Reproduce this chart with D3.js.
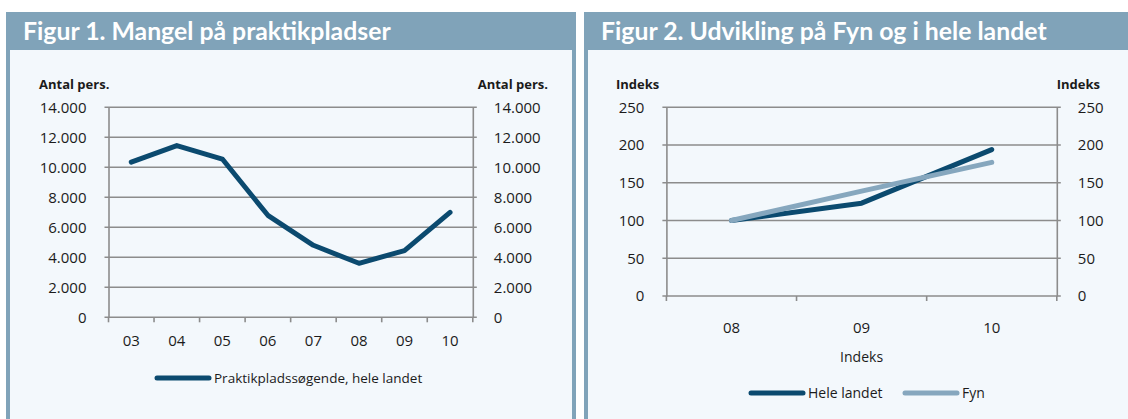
<!DOCTYPE html>
<html>
<head>
<meta charset="utf-8">
<script src="https://cdn.jsdelivr.net/npm/d3@7"></script>
<style>
  html, body { margin: 0; padding: 0; background: #fff; }
  svg { display: block; font-family: "Open Sans", sans-serif; }
</style>
</head>
<body>
<div id="chart"></div>
<script>
// Figur 1 data
const years1 = ["03", "04", "05", "06", "07", "08", "09", "10"];
const soegende = [10350, 11450, 10550, 6800, 4800, 3600, 4450, 7000];
const ticks1 = [0, 2000, 4000, 6000, 8000, 10000, 12000, 14000];

// Figur 2 data
const years2 = ["08", "09", "10"];
const heleLandet = [100, 123, 194];
const fyn = [100, 139, 177];
const ticks2 = [0, 50, 100, 150, 200, 250];

const W = 1128, H = 419;
const headerColor = "#80a3b9";
const panelBg = "#f3f8fc";
const gridColor = "#8c8c8c";
const textColor = "#1b1b1b";

const svg = d3.select("#chart").append("svg")
  .attr("width", W).attr("height", H);

const fmt = (v) => d3.format(",")(v).replace(/,/g, ".");

function drawPanel(p) {
  const g = svg.append("g");
  // panel background and border strips
  g.append("rect").attr("x", p.x0).attr("y", 12).attr("width", p.x1 - p.x0).attr("height", H - 12)
    .attr("fill", headerColor);
  g.append("rect").attr("x", p.x0 + 4).attr("y", 50).attr("width", p.x1 - p.x0 - 4 - p.rightBorder)
    .attr("height", H - 50).attr("fill", panelBg);
  g.append("text").attr("x", p.titleX).attr("y", 40)
    .attr("fill", "#fff").attr("font-family", "Lato, sans-serif").attr("font-weight", 700)
    .attr("font-size", 24.8).text(p.title);

  const x = d3.scaleBand().domain(p.cats).range([p.left, p.right]);
  const y = d3.scaleLinear().domain([0, d3.max(p.ticks)]).range([p.bottom, p.top]);

  // gridlines
  g.append("g").selectAll("line").data(p.ticks).join("line")
    .attr("x1", p.left - 4).attr("x2", p.right + 4)
    .attr("y1", (d) => y(d)).attr("y2", (d) => y(d))
    .attr("stroke", gridColor).attr("stroke-width", 1.6);

  // left / right axes
  const axL = g.append("g").attr("transform", `translate(${p.left},0)`)
    .call(d3.axisLeft(y).tickValues(p.ticks).tickFormat(fmt).tickSize(0).tickPadding(p.padL));
  const axR = g.append("g").attr("transform", `translate(${p.right},0)`)
    .call(d3.axisRight(y).tickValues(p.ticks).tickFormat(fmt).tickSize(0).tickPadding(p.padR));
  [axL, axR].forEach((ax) => {
    ax.select(".domain").attr("stroke", gridColor).attr("stroke-width", 1.6);
    ax.selectAll("text").attr("font-size", 15).attr("fill", textColor)
      .attr("font-family", "Open Sans, sans-serif");
  });

  // bottom axis with ticks at band boundaries
  const bounds = p.cats.map((c) => x(c)).concat([p.right]);
  g.append("g").selectAll("line").data(bounds).join("line")
    .attr("x1", (d) => d).attr("x2", (d) => d)
    .attr("y1", p.bottom).attr("y2", p.bottom + 5)
    .attr("stroke", gridColor).attr("stroke-width", 1.6);
  g.append("g").selectAll("text").data(p.cats).join("text")
    .attr("x", (d) => x(d) + x.bandwidth() / 2).attr("y", p.catY)
    .attr("text-anchor", "middle").attr("font-size", 15).attr("fill", textColor)
    .text((d) => d);

  // unit labels
  g.append("text").attr("x", p.unitLX).attr("y", 89).attr("font-weight", 700)
    .attr("font-size", 13).attr("fill", textColor).text(p.unit);
  g.append("text").attr("x", p.unitRX).attr("y", 89).attr("font-weight", 700)
    .attr("text-anchor", "end").attr("font-size", 13).attr("fill", textColor).text(p.unit);

  if (p.xTitle) {
    g.append("text").attr("x", (p.left + p.right) / 2).attr("y", 362)
      .attr("text-anchor", "middle").attr("font-size", 14).attr("fill", textColor).text(p.xTitle);
  }

  // series
  const line = d3.line()
    .x((d, i) => x(p.cats[i]) + x.bandwidth() / 2)
    .y((d) => y(d));
  p.series.forEach((s) => {
    g.append("path").datum(s.values).attr("d", line)
      .attr("fill", "none").attr("stroke", s.color).attr("stroke-width", 5)
      .attr("stroke-linecap", "round").attr("stroke-linejoin", "round");
  });

  // legend
  p.legend.forEach((l, i) => {
    const s = p.series[i];
    g.append("line").attr("x1", l.x).attr("x2", l.x + 52).attr("y1", p.legendY).attr("y2", p.legendY)
      .attr("stroke", s.color).attr("stroke-width", 5).attr("stroke-linecap", "round");
    g.append("text").attr("x", l.x + 57).attr("y", p.legendY + 5)
      .attr("font-size", p.legendSize).attr("fill", textColor).text(s.name);
  });
}

drawPanel({
  x0: 6, x1: 576, rightBorder: 4,
  title: "Figur 1. Mangel på praktikpladser", titleX: 23,
  cats: years1, ticks: ticks1,
  left: 108.5, right: 472.8, top: 107.3, bottom: 317.3,
  padL: 22, padR: 21, catY: 346,
  unit: "Antal pers.", unitLX: 39, unitRX: 548,
  series: [{ name: "Praktikpladssøgende, hele landet", values: soegende, color: "#0b4a6f" }],
  legend: [{ x: 157 }], legendY: 378, legendSize: 13.5
});

drawPanel({
  x0: 584, x1: W, rightBorder: 0,
  title: "Figur 2. Udvikling på Fyn og i hele landet", titleX: 601,
  cats: years2, ticks: ticks2,
  left: 666.4, right: 1056.8, top: 107.3, bottom: 296,
  padL: 22, padR: 21, catY: 333,
  unit: "Indeks", unitLX: 616, unitRX: 1100,
  xTitle: "Indeks",
  series: [
    { name: "Hele landet", values: heleLandet, color: "#0b4a6f" },
    { name: "Fyn", values: fyn, color: "#86a7be" }
  ],
  legend: [{ x: 751 }, { x: 905 }], legendY: 393, legendSize: 14
});
</script>
</body>
</html>
